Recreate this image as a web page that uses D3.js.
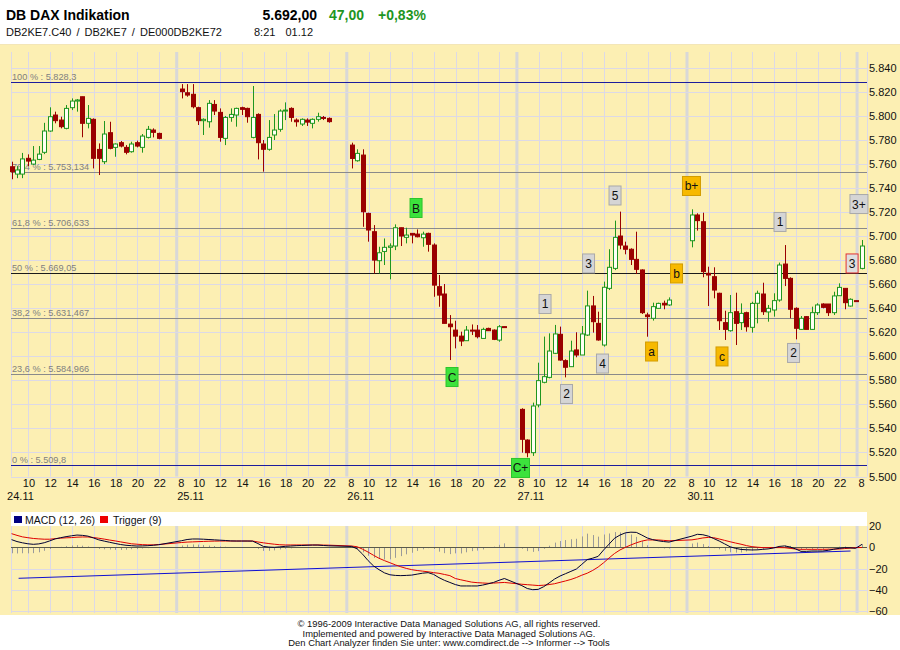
<!DOCTYPE html>
<html><head><meta charset="utf-8">
<script src="https://cdn.jsdelivr.net/npm/d3@7"></script>
<style>
body{margin:0;background:#fff;}
svg{display:block;font-family:Arial,"Liberation Sans",sans-serif;}
</style>
</head><body>
<svg id="c" width="900" height="650"></svg>
<script>
// ---------------- DATA ----------------
const dayLabels = ["24.11", "25.11", "26.11", "27.11", "30.11", "01.12"];
const hourTicks = [8, 10, 12, 14, 16, 18, 20, 22];
// half-hour bars [open, high, low, close]; first bar of each day ends 08:30
const bars2411 = [[5757.5,5761.7,5747.1,5753.4],[5751.4,5758.0,5748.0,5754.8],[5751.4,5769.0,5748.0,5764.0],[5764.5,5767.8,5758.0,5762.2],[5759.7,5774.7,5759.0,5763.0],[5763.6,5774.7,5763.0,5768.0],[5769.5,5794.0,5768.0,5787.2],[5787.2,5806.9,5786.6,5799.1],[5800.5,5803.3,5793.6,5795.8],[5796.3,5799.1,5789.4,5790.8],[5789.4,5808.8,5788.6,5806.0],[5806.6,5814.3,5804.6,5812.1],[5812.1,5813.8,5803.3,5813.0],[5815.7,5815.7,5782.0,5793.6],[5793.6,5808.8,5789.4,5797.7],[5796.9,5797.7,5756.1,5764.5],[5771.9,5776.9,5750.6,5764.5],[5761.7,5795.5,5759.7,5784.7],[5785.8,5794.9,5772.0,5772.8],[5773.6,5776.9,5765.8,5776.4],[5777.5,5778.9,5773.6,5774.7],[5773.6,5775.5,5767.8,5769.5],[5770.0,5778.3,5769.2,5776.4],[5777.5,5779.2,5773.6,5774.7],[5773.6,5784.7,5769.2,5783.0],[5781.9,5791.4,5781.0,5788.6],[5788.0,5789.4,5781.9,5786.1],[5785.2,5785.8,5780.3,5781.1]];
const bars2511 = [[5822.1,5826.2,5814.3,5819.9],[5819.0,5826.2,5815.7,5817.1],[5817.7,5826.2,5806.0,5807.4],[5806.6,5807.4,5792.2,5795.8],[5795.8,5797.7,5783.9,5796.9],[5794.9,5812.9,5790.0,5810.2],[5809.3,5812.9,5800.5,5803.8],[5802.7,5806.0,5778.3,5781.9],[5781.1,5799.7,5775.5,5798.5],[5798.5,5806.0,5794.9,5801.0],[5800.5,5806.6,5790.8,5806.0],[5806.6,5807.4,5800.5,5805.2],[5806.0,5806.6,5794.1,5799.1],[5781.9,5824.6,5781.1,5798.5],[5801.0,5801.9,5763.6,5777.5],[5776.4,5779.7,5753.4,5772.0],[5772.0,5796.3,5770.8,5781.9],[5783.9,5801.3,5779.7,5788.0],[5788.6,5805.2,5786.6,5803.8],[5803.8,5811.0,5796.3,5804.6],[5806.0,5806.9,5794.9,5798.5],[5796.3,5797.7,5790.8,5794.9],[5793.0,5797.7,5791.4,5796.9],[5796.3,5797.7,5791.4,5794.6],[5793.6,5797.7,5789.4,5796.9],[5796.9,5802.4,5795.0,5799.1],[5798.5,5799.7,5796.3,5798.0],[5797.7,5798.5,5794.1,5795.0]];
const bars2611 = [[5775.5,5777.5,5756.1,5764.4],[5762.5,5772.0,5761.7,5768.6],[5767.2,5772.0,5707.6,5720.1],[5718.7,5719.3,5695.2,5704.9],[5703.5,5709.0,5668.8,5679.9],[5679.4,5691.0,5668.8,5686.0],[5687.1,5697.9,5675.8,5690.5],[5690.5,5693.8,5663.9,5691.6],[5691.6,5709.6,5688.2,5706.8],[5706.8,5706.8,5691.6,5699.9],[5698.8,5706.8,5693.8,5700.7],[5702.1,5702.1,5693.8,5700.7],[5701.5,5705.4,5698.8,5699.3],[5698.5,5703.5,5691.0,5701.5],[5702.1,5702.7,5686.9,5693.0],[5692.4,5693.8,5649.4,5659.1],[5657.8,5667.5,5641.1,5650.8],[5651.7,5660.0,5627.3,5627.3],[5626.7,5634.2,5596.8,5624.5],[5621.7,5629.5,5606.5,5616.7],[5616.7,5620.4,5608.4,5612.6],[5612.9,5625.1,5612.9,5621.7],[5621.7,5626.4,5617.6,5620.9],[5621.7,5625.9,5614.8,5616.2],[5614.8,5623.7,5614.8,5622.3],[5623.1,5623.7,5621.2,5621.2],[5621.7,5622.3,5613.4,5614.0],[5613.4,5625.9,5612.0,5624.5],[5624.6,5624.6,5624.4,5624.4]];
const bars2711 = [[5555.8,5556.7,5519.8,5530.9],[5530.3,5530.9,5516.0,5519.8],[5519.8,5561.4,5517.1,5558.6],[5559.5,5594.6,5557.5,5579.7],[5578.3,5616.3,5577.5,5583.0],[5582.4,5619.0,5581.6,5604.3],[5602.4,5626.0,5601.8,5618.5],[5618.2,5624.6,5596.3,5596.8],[5596.3,5597.4,5582.4,5590.8],[5591.3,5612.9,5591.3,5604.3],[5605.2,5619.9,5599.1,5601.0],[5601.0,5625.1,5601.0,5618.5],[5617.6,5654.5,5616.8,5641.8],[5641.8,5650.1,5619.6,5628.7],[5627.3,5637.0,5612.9,5613.5],[5609.3,5662.0,5608.0,5657.3],[5656.4,5688.9,5655.0,5673.9],[5673.0,5712.7,5671.6,5698.8],[5699.9,5720.2,5688.9,5692.4],[5691.6,5695.2,5684.7,5688.9],[5688.9,5689.7,5675.8,5680.5],[5680.5,5703.5,5668.3,5672.2],[5671.7,5672.2,5635.1,5636.2],[5634.3,5636.2,5616.2,5632.9],[5631.5,5644.5,5629.6,5641.2],[5639.8,5644.5,5639.8,5643.9],[5644.0,5646.2,5639.0,5642.6],[5642.6,5648.9,5641.8,5646.7]];
const bars3011 = [[5696.0,5722.1,5690.5,5717.4],[5717.4,5718.8,5704.4,5712.7],[5711.8,5719.3,5665.6,5670.3],[5668.9,5674.4,5641.7,5667.5],[5666.1,5673.9,5648.1,5655.0],[5652.3,5652.8,5621.8,5629.5],[5627.9,5637.8,5613.5,5622.3],[5621.2,5650.9,5620.4,5636.2],[5637.0,5652.8,5609.3,5627.3],[5627.9,5643.9,5621.8,5635.6],[5636.2,5637.0,5620.4,5624.5],[5624.0,5645.3,5619.6,5643.9],[5644.0,5654.5,5627.3,5652.3],[5651.7,5661.1,5634.3,5637.0],[5636.8,5642.6,5628.7,5639.8],[5638.4,5652.3,5632.9,5646.2],[5646.7,5677.8,5645.3,5675.8],[5676.6,5692.4,5658.3,5664.7],[5664.7,5665.6,5631.5,5639.0],[5639.8,5640.6,5614.0,5623.2],[5622.3,5633.4,5621.8,5631.5],[5632.9,5633.4,5622.3,5622.3],[5622.3,5641.2,5621.8,5636.2],[5636.2,5644.0,5634.3,5642.6],[5643.4,5644.0,5639.8,5640.6],[5643.4,5643.4,5633.4,5636.2],[5636.2,5653.6,5634.3,5650.1],[5650.3,5660.6,5650.1,5657.2],[5656.4,5656.4,5639.0,5644.5],[5641.7,5648.1,5641.2,5647.3],[5646.2,5646.2,5645.9,5645.9]];
const bars0112 = [[5673.0,5696.6,5672.2,5691.6]];

// MACD (12,26) and trigger (9), one value per bar
const macd2411 = [7.2,5.4,4.2,3.3,2.8,3.2,4.3,6.0,7.9,9.0,10.0,10.8,11.5,11.2,10.5,8.8,7.0,5.8,4.7,3.6,2.6,1.9,1.5,1.2,1.3,1.5,1.9,2.4];
const trig2411 = [12.8,11.2,9.8,9.0,8.3,7.9,7.6,7.6,8.1,8.6,8.9,9.1,9.5,9.7,9.7,9.2,8.5,7.7,6.8,6.0,5.1,4.2,3.3,2.9,2.5,2.3,2.3,2.6];
const macd2511 = [6.2,7.3,7.8,7.8,7.6,7.3,7.0,6.7,6.4,6.0,5.9,5.9,5.9,5.8,3.5,0.8,0.2,0.0,0.4,0.9,1.2,1.5,1.7,1.9,2.1,2.1,1.7,1.4];
const trig2511 = [4.5,4.9,5.1,5.3,5.5,5.7,5.8,5.9,5.9,5.9,5.9,5.9,5.9,5.9,5.0,4.2,3.5,2.9,2.4,2.2,2.2,2.2,2.2,2.2,2.2,2.2,2.1,2.0];
const macd2611 = [0.8,-1.5,-6.5,-12.5,-17.5,-21,-24,-25.8,-26.4,-26.6,-26.4,-26.1,-25.2,-24.3,-23.8,-25.4,-28.5,-31,-33,-35,-36.3,-36.3,-36.3,-36.3,-35.5,-34.3,-33,-31,-29.3];
const trig2611 = [1.2,0.5,-1.8,-4.5,-7.5,-10.3,-12.5,-14.5,-16.5,-18.3,-19.8,-21,-21.8,-22.4,-23,-23.8,-24.4,-25.5,-26.6,-29.3,-30.5,-31.6,-32.7,-33.2,-33.5,-33.8,-33.6,-33.3,-33.0];
const macd2711 = [-36,-38.7,-39.8,-39.5,-37,-33.5,-29.8,-27,-24.8,-22.6,-20.4,-16,-11.5,-10.2,-8.5,-2.5,3,8.5,11.5,13.6,14.2,14,11.5,8.8,7.2,6.1,5.4,4.9];
const trig2711 = [-34.7,-35.1,-35.5,-35.9,-35.6,-35,-34.2,-32.9,-31.6,-30.2,-28.4,-26.2,-24.3,-21.7,-18.5,-14.5,-10,-5.8,-2.5,0,2.2,4.2,5.8,6.9,6.9,6.9,6.5,6.1];
const macd3011 = [10.5,12.2,11.8,10.5,8.2,5.9,3.2,0.5,-1,-2,-2.3,-2.5,-2.4,-1.9,-1.5,-0.6,0.8,1.3,0.3,-1.5,-3.8,-3.8,-3.5,-3.5,-3.5,-2.8,-1.8,-1,-0.4,-0.5,-1];
const trig3011 = [7.0,7.8,8.8,9.3,9.0,7.8,6.5,5.2,4.0,2.9,1.6,0.6,0.1,-0.3,-0.3,-0.3,-0.3,-0.4,-1.0,-1.6,-1.9,-1.9,-1.9,-1.9,-1.9,-1.8,-1.7,-1.6,-1.2,-0.8,-0.3];
const macd0112 = [2.8];
const trig0112 = [-0.2];

// trend line drawn in MACD panel: [dayIndex, hour, value]
const trendStart = [0, 9.1, -29.1];
const trendEnd = [4, 23.0, -3.5];

const priceTicks = [5500,5520,5540,5560,5580,5600,5620,5640,5660,5680,5700,5720,5740,5760,5780,5800,5820,5840];
const macdTicks = [20, 0, -20, -40, -60];

const fibPct = [100, 76.4, 61.8, 50, 38.2, 23.6, 0];
const fibValue = [5828.3, 5753.134, 5706.633, 5669.05, 5631.467, 5584.966, 5509.8];
const fibColor = ["#1c1c9c", "#8a8a8a", "#8a8a8a", "#1a1a1a", "#8a8a8a", "#8a8a8a", "#1c1c9c"];

// wave count markers: text, kind, dayIndex, hour, price
const markerText  = ["B","C","C+","1","2","3","4","5","a","b","b+","c","1","2","3","3+"];
const markerKind  = ["g","g","g","s","s","s","s","s","o","o","o","o","s","s","r","s"];
const markerDay   = [2,2,3,3,3,3,3,3,3,3,4,4,4,4,4,5];
const markerHour  = [14.35,17.65,8.33,10.58,12.55,14.57,15.85,17.0,20.35,22.64,8.41,11.21,16.53,17.77,23.14,8.17];
const markerPrice = [5723.2,5582.7,5507.1,5643.4,5568.6,5677.1,5593.9,5733.6,5603.9,5668.8,5741.5,5599.8,5711.6,5602.7,5677.1,5726.5];

const titleText = "DB DAX Indikation";
const lastPrice = 5692.00, changeAbs = 47.00, changePct = 0.83;
const idText = "DB2KE7.C40 / DB2KE7 / DE000DB2KE72";
const timeText = "8:21", dateText = "01.12";
const footerLines = ["\u00a9 1996-2009 Interactive Data Managed Solutions AG, all rights reserved.",
  "Implemented and powered by Interactive Data Managed Solutions AG.",
  "Den Chart Analyzer finden Sie unter: www.comdirect.de --> Informer --> Tools"];

// ---------------- LAYOUT ----------------
const de = d3.formatLocale({decimal: ",", thousands: ".", grouping: [3], currency: ["", " \u20ac"]});
const svg = d3.select("#c");
const BG = "#fcefb3", GRID = "#dcd9e6", SEP = "#d8d8d8";
const P = {left: 11, right: 867, top: 52, bottom: 476.5};
const M = {top: 526, bottom: 613};
const DAY_SPAN = 15.6;
const x = d3.scaleLinear().domain([0, 5 * DAY_SPAN]).range([6.6, 857.1]);
const xAt = (d, h) => x(d * DAY_SPAN + h - 8);
const y = d3.scaleLinear().domain([5500, 5840]).range([476.5, 67.5]);
const ym = d3.scaleLinear().domain([-60, 20]).range([611.2, 526]);

const dayBars = [bars2411, bars2511, bars2611, bars2711, bars3011, bars0112];
const dayMacd = [macd2411, macd2511, macd2611, macd2711, macd3011, macd0112];
const dayTrig = [trig2411, trig2511, trig2611, trig2711, trig3011, trig0112];
const bars = [];
dayBars.forEach((arr, d) => arr.forEach((b, k) => bars.push({
  d, h: 8.5 + 0.5 * k, o: b[0], hi: b[1], lo: b[2], c: b[3],
  m: dayMacd[d][k], t: dayTrig[d][k]})));
bars.forEach(b => b.x = xAt(b.d, b.h) - 0.5);

// background
svg.append("rect").attr("width", 900).attr("height", 650).attr("fill", "#fff");
svg.append("rect").attr("y", 44).attr("width", 900).attr("height", 571).attr("fill", BG);
svg.append("line").attr("x1", 0).attr("x2", 900).attr("y1", 44.5).attr("y2", 44.5).attr("stroke", "#f3e6b8");

// header
svg.append("text").attr("x", 6).attr("y", 20).attr("font-size", 14).attr("font-weight", "bold").text(titleText);
svg.append("text").attr("x", 317).attr("y", 20).attr("text-anchor", "end").attr("font-size", 14).attr("font-weight", "bold").text(de.format(",.2f")(lastPrice));
svg.append("text").attr("x", 329).attr("y", 20).attr("font-size", 14).attr("font-weight", "bold").attr("fill", "#1f961f").text(de.format(",.2f")(changeAbs));
svg.append("text").attr("x", 378).attr("y", 20).attr("font-size", 14).attr("font-weight", "bold").attr("fill", "#1f961f").text("+" + de.format(".2f")(changePct) + "%");
svg.append("text").attr("x", 6).attr("y", 36).attr("font-size", 11).attr("fill", "#111").attr("word-spacing", 2).text(idText);
svg.append("text").attr("x", 254).attr("y", 36).attr("font-size", 11).attr("fill", "#111").text(timeText);
svg.append("text").attr("x", 313).attr("y", 36).attr("text-anchor", "end").attr("font-size", 11).attr("fill", "#111").text(dateText);

// grid: vertical
const gridTimes = [];
dayLabels.forEach((lab, d) => hourTicks.forEach(h => {
  const px = xAt(d, h);
  if (px >= P.left - 0.5 && px <= P.right) gridTimes.push({d, h, px});
}));
function vGrid(top, bottom) {
  svg.append("g").selectAll("line").data(gridTimes.filter(t => t.h !== 8)).join("line")
    .attr("x1", t => Math.round(t.px) + 0.5).attr("x2", t => Math.round(t.px) + 0.5)
    .attr("y1", top).attr("y2", bottom).attr("stroke", GRID);
  svg.append("g").selectAll("line").data(gridTimes.filter(t => t.h === 8)).join("line")
    .attr("x1", t => t.px).attr("x2", t => t.px)
    .attr("y1", top).attr("y2", bottom).attr("stroke", SEP).attr("stroke-width", 3);
  [P.left, P.right].forEach(px => svg.append("line").attr("x1", px + 0.5).attr("x2", px + 0.5)
    .attr("y1", top).attr("y2", bottom).attr("stroke", GRID));
}
vGrid(P.top, P.bottom);
svg.append("g").selectAll("line").data(priceTicks).join("line")
  .attr("x1", P.left).attr("x2", P.right)
  .attr("y1", v => Math.round(y(v)) + 0.5).attr("y2", v => Math.round(y(v)) + 0.5)
  .attr("stroke", GRID);

// price axis (right)
const yAxis = d3.axisRight(y).tickValues(priceTicks).tickFormat(de.format(",.0f")).tickSize(0).tickPadding(2);
const ya = svg.append("g").attr("transform", `translate(${P.right},0)`).call(yAxis);
ya.select(".domain").remove();
ya.selectAll("text").attr("font-size", 11).attr("font-family", "Arial, 'Liberation Sans', sans-serif").attr("fill", "#111");

// time axis
const tickU = gridTimes.map(t => t.d * DAY_SPAN + t.h - 8);
const xAxis = d3.axisBottom(x).tickValues(tickU).tickSize(0).tickPadding(3)
  .tickFormat(u => String(Math.round(8 + (u - Math.floor((u + 0.001) / DAY_SPAN) * DAY_SPAN))));
const xa = svg.append("g").attr("transform", `translate(0,${P.bottom})`).call(xAxis);
xa.select(".domain").remove();
xa.selectAll("text").attr("font-size", 11).attr("font-family", "Arial, 'Liberation Sans', sans-serif").attr("fill", "#111")
  .attr("dx", function(u) { return this.textContent === "8" ? 4 : 0; });
svg.append("g").selectAll("text").data(dayLabels.slice(0, 5)).join("text")
  .attr("x", (lab, d) => xAt(d, 8) + 0.5).attr("y", 500).attr("font-size", 11).attr("fill", "#111").text(d => d);

// fibonacci lines
svg.append("g").selectAll("line").data(fibValue).join("line")
  .attr("x1", P.left).attr("x2", P.right)
  .attr("y1", v => Math.round(y(v)) + 0.5).attr("y2", v => Math.round(y(v)) + 0.5)
  .attr("stroke", (v, i) => fibColor[i]);
svg.append("g").selectAll("text").data(fibValue).join("text")
  .attr("x", 12).attr("y", v => Math.round(y(v)) - 2.5).attr("font-size", 9.2).attr("fill", "#808080")
  .text((v, i) => de.format("~f")(fibPct[i]) + " % : " + de.format(",.3~f")(v));

// candles
const GREEN = "#1f961f", RED = "#9a0000";
const cg = svg.append("g");
cg.selectAll("line").data(bars).join("line")
  .attr("x1", b => Math.round(b.x) + 0.5).attr("x2", b => Math.round(b.x) + 0.5)
  .attr("y1", b => y(b.hi)).attr("y2", b => y(b.lo))
  .attr("stroke", b => b.c >= b.o ? GREEN : RED);
cg.selectAll("rect").data(bars).join("rect")
  .attr("x", b => Math.round(b.x) - 1.5).attr("width", 4)
  .attr("y", b => y(Math.max(b.o, b.c)))
  .attr("height", b => Math.max(1, Math.abs(y(b.o) - y(b.c))))
  .attr("fill", b => b.c >= b.o ? "#fffff4" : RED)
  .attr("stroke", b => b.c >= b.o ? GREEN : RED).attr("stroke-width", 1);

// markers
const kindFill = {g: "#3ce23c", s: "#d5d5d5", o: "#f7b900", r: "#dedede"};
const kindStroke = {g: "#2cc42c", s: "#a9a9a9", o: "#d29c00", r: "#e23232"};
const mg = svg.append("g").selectAll("g").data(markerText).join("g")
  .attr("transform", (t, i) => `translate(${xAt(markerDay[i], markerHour[i])},${y(markerPrice[i])})`);
mg.append("rect")
  .attr("x", t => -(t.length > 1 ? 9 : 6)).attr("width", t => t.length > 1 ? 18 : 12)
  .attr("y", -9.5).attr("height", 19)
  .attr("fill", (t, i) => kindFill[markerKind[i]]).attr("stroke", (t, i) => kindStroke[markerKind[i]]);
mg.append("text").attr("text-anchor", "middle").attr("y", 4.5).attr("font-size", 12).attr("fill", "#111").text(t => t);

// ---------------- MACD PANEL ----------------
svg.append("rect").attr("x", P.left).attr("y", 512).attr("width", P.right - P.left).attr("height", 14).attr("fill", "#fff");
vGrid(M.top, M.bottom);
svg.append("g").selectAll("line").data(macdTicks.filter(v => v !== 0 && v !== 20)).join("line")
  .attr("x1", P.left).attr("x2", P.right)
  .attr("y1", v => Math.round(ym(v)) + 0.5).attr("y2", v => Math.round(ym(v)) + 0.5).attr("stroke", GRID);
// histogram
svg.append("g").selectAll("line").data(bars).join("line")
  .attr("x1", b => Math.round(b.x) + 0.5).attr("x2", b => Math.round(b.x) + 0.5)
  .attr("y1", ym(0)).attr("y2", b => ym(b.m - b.t)).attr("stroke", "#9a9a9a");
svg.append("line").attr("x1", P.left).attr("x2", P.right).attr("y1", Math.round(ym(0)) + 0.5).attr("y2", Math.round(ym(0)) + 0.5).attr("stroke", "#5a5a4a");
// trend line
svg.append("line")
  .attr("x1", xAt(trendStart[0], trendStart[1])).attr("y1", ym(trendStart[2]))
  .attr("x2", xAt(trendEnd[0], trendEnd[1])).attr("y2", ym(trendEnd[2]))
  .attr("stroke", "#1010d0");
svg.append("path").datum(bars).attr("fill", "none").attr("stroke", "#e00000")
  .attr("d", d3.line().x(b => b.x).y(b => ym(b.t)));
svg.append("path").datum(bars).attr("fill", "none").attr("stroke", "#000033")
  .attr("d", d3.line().x(b => b.x).y(b => ym(b.m)));
const ma = svg.append("g").attr("transform", `translate(${P.right},0)`)
  .call(d3.axisRight(ym).tickValues(macdTicks).tickSize(0).tickPadding(2).tickFormat(d3.format("d")));
ma.select(".domain").remove();
ma.selectAll("text").attr("font-size", 11).attr("font-family", "Arial, 'Liberation Sans', sans-serif").attr("fill", "#111");
// legend
svg.append("rect").attr("x", 14).attr("y", 516).attr("width", 8).attr("height", 7).attr("fill", "#000080");
svg.append("text").attr("x", 25).attr("y", 524).attr("font-size", 10.5).attr("fill", "#111").text("MACD (12, 26)");
svg.append("rect").attr("x", 100).attr("y", 516).attr("width", 8).attr("height", 7).attr("fill", "#ee0000");
svg.append("text").attr("x", 113).attr("y", 524).attr("font-size", 10.5).attr("fill", "#111").text("Trigger (9)");

// footer
svg.append("g").selectAll("text").data(footerLines).join("text")
  .attr("x", 449).attr("y", (t, i) => 627 + i * 9.7).attr("text-anchor", "middle")
  .attr("font-size", 9.4).attr("fill", "#111").text(t => t);
</script>
</body></html>
